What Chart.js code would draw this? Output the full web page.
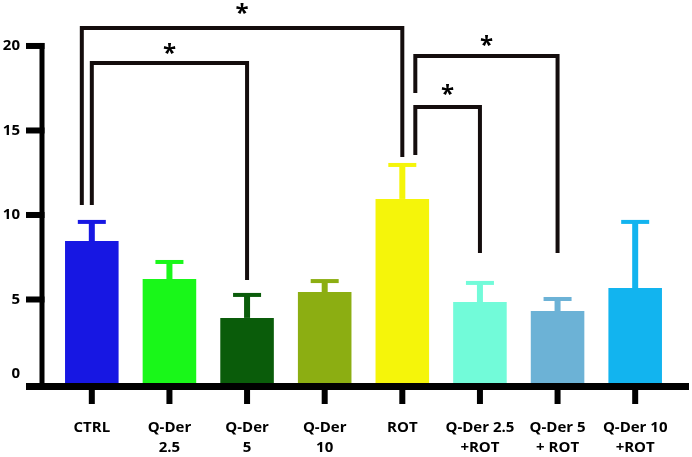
<!DOCTYPE html>
<html>
<head>
<meta charset="utf-8">
<script src="https://cdn.jsdelivr.net/npm/chart.js@4.4.1/dist/chart.umd.min.js"></script>
<style>
  html, body { margin: 0; padding: 0; background: #fff; }
  #box { width: 692px; height: 457px; }
</style>
</head>
<body>
<div id="box"><canvas id="grafico"></canvas></div>
<script>
const groups = ['CTRL', ['Q-Der', '2.5'], ['Q-Der', '5'], ['Q-Der', '10'], 'ROT',
                ['Q-Der 2.5', '+ROT'], ['Q-Der 5', '+ ROT'], ['Q-Der 10', '+ROT']];
const means = [8.46, 6.21, 3.91, 5.44, 10.95, 4.85, 4.32, 5.68];
const sem = [1.13, 1.01, 1.36, 0.65, 2.01, 1.13, 0.71, 3.91];
const yTicks = [0, 5, 10, 15, 20];
const barColors = ['#1717e3', '#19f719', '#0a5c0a', '#8cae12', '#f5f50a', '#72fbd9', '#6cb2d6', '#12b4ef'];
// [from group, to group, bracket level, end of left leg, end of right leg]
const brackets = [
    [0, 4, 21.07, 10.59, 13.43],
    [0, 2, 18.99, 10.59, 6.15],
    [4, 6, 19.41, 17.22, 7.75],
    [4, 5, 16.39, 13.55, 7.75]
];

const labelFont = { family: 'Open Sans', weight: 'bold', size: 15, lineHeight: 1.333 };

const extras = {
    id: 'extras',
    afterDatasetsDraw(chart, args, opts) {
        const c = chart.ctx;
        const x = chart.scales.x, y = chart.scales.y;
        const y0 = y.getPixelForValue(0);
        c.save();

        // error bars (upper only)
        means.forEach((m, i) => {
            const cx = x.getPixelForValue(i);
            const top = y.getPixelForValue(m + sem[i]);
            c.fillStyle = barColors[i];
            c.fillRect(cx - 3, top, 6, y.getPixelForValue(m) - top);
            c.fillRect(cx - 14, top - 2, 28, 4);
        });

        // axes
        c.fillStyle = '#000';
        const ax = chart.chartArea.left - 11;
        const yTop = y.getPixelForValue(yTicks[yTicks.length - 1]);
        c.fillRect(ax - 2.5, yTop - 3, 5, y0 - yTop + 3);
        yTicks.forEach(v => {
            if (v === 0) return;
            const p = y.getPixelForValue(v);
            c.fillRect(ax - 16, p - 3, 18.5, 6);
        });
        c.fillRect(ax - 16, y0 - 1, chart.chartArea.right + 15 - (ax - 16), 7);
        groups.forEach((g, i) => {
            const cx = x.getPixelForValue(i);
            c.fillRect(cx - 3, y0 + 5, 6, 15);
        });

        // significance brackets
        c.strokeStyle = '#140d0d';
        c.lineWidth = 4;
        c.lineJoin = 'miter';
        c.lineCap = 'butt';
        c.fillStyle = '#000';
        c.font = 'bold 24px "Open Sans"';
        c.textAlign = 'center';
        c.textBaseline = 'alphabetic';
        brackets.forEach((b, k) => {
            const xl = x.getPixelForValue(b[0]) + opts.legShift[k][0];
            const xr = x.getPixelForValue(b[1]) + opts.legShift[k][1];
            const lv = y.getPixelForValue(b[2]);
            c.beginPath();
            c.moveTo(xl, y.getPixelForValue(b[3]));
            c.lineTo(xl, lv);
            c.lineTo(xr, lv);
            c.lineTo(xr, y.getPixelForValue(b[4]));
            c.stroke();
            c.fillText('*', (xl + xr) / 2, lv - opts.starGap[k] + 13);
        });
        c.restore();
    }
};

const chart = new Chart(document.getElementById('grafico'), {
    type: 'bar',
    data: {
        labels: groups,
        datasets: [{
            data: means,
            backgroundColor: barColors,
            borderWidth: 0,
            barPercentage: 0.69,
            categoryPercentage: 1
        }]
    },
    options: {
        responsive: true,
        maintainAspectRatio: false,
        animation: false,
        layout: { padding: { top: 0, right: 18, bottom: 0, left: 0 } },
        plugins: {
            legend: { display: false },
            tooltip: { enabled: false },
            extras: {
                legShift: [[-10, 0], [0, 0], [13, 0], [13, 0]],
                starGap: [20, 15, 16, 18]
            }
        },
        scales: {
            x: {
                grid: { display: false, drawTicks: false },
                border: { display: false },
                ticks: { color: '#000', font: labelFont, padding: 34, maxRotation: 0, autoSkip: false },
                afterFit: s => { s.height = 73; s.paddingLeft = 0; s.paddingRight = 0; }
            },
            y: {
                min: 0,
                max: 22.72,
                grid: { display: false, drawTicks: false },
                border: { display: false },
                ticks: {
                    color: '#000',
                    font: labelFont,
                    padding: 33,
                    callback: v => v === 0 ? ['0', ''] : v
                },
                afterBuildTicks: s => { s.ticks = yTicks.map(v => ({ value: v })); },
                afterFit: s => { s.width = 53; s.paddingTop = 0; s.paddingBottom = 0; }
            }
        }
    },
    plugins: [extras]
});
</script>
</body>
</html>
